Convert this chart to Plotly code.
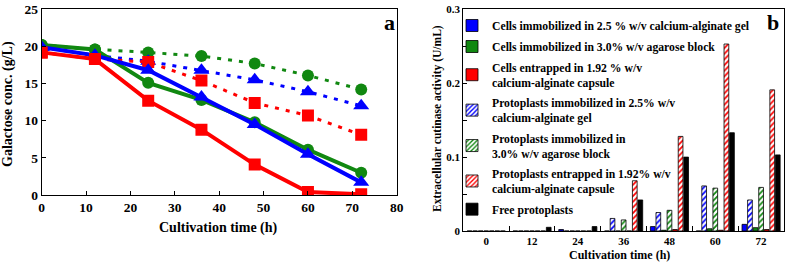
import plotly.graph_objects as go

# ---------- Panel a data ----------
time_h = [0, 12, 24, 36, 48, 60, 72]
gal_gel_solid = [19.9, 18.8, 16.8, 13.2, 9.5, 5.5, 1.7]
gal_agarose_solid = [20.2, 19.6, 15.1, 12.8, 9.8, 6.1, 3.0]
gal_capsule_solid = [19.2, 18.3, 12.7, 8.8, 4.1, 0.4, 0.1]
gal_gel_dotted = [19.9, 18.8, 18.0, 16.8, 15.5, 13.9, 12.0]
gal_agarose_dotted = [20.2, 19.6, 19.2, 18.7, 17.7, 16.1, 14.2]
gal_capsule_dotted = [19.2, 18.3, 17.9, 15.4, 12.4, 10.7, 8.1]

# ---------- Panel b data ----------
cats = ["0", "12", "24", "36", "48", "60", "72"]
cells_gel = [0, 0, 0.002, 0, 0.006, 0, 0.009]
prot_gel = [0, 0, 0, 0.017, 0.025, 0.061, 0.042]
cells_agarose = [0, 0, 0, 0, 0.001, 0.003, 0.0045]
prot_agarose = [0, 0, 0, 0.015, 0.028, 0.058, 0.059]
cells_capsule = [0, 0, 0, 0, 0.002, 0.001, 0.002]
prot_capsule = [0, 0, 0, 0.068, 0.128, 0.253, 0.191]
free_prot = [0, 0.005, 0.006, 0.042, 0.100, 0.133, 0.103]

names = {
    "cells_gel": "Cells immobilized in 2.5 % w/v calcium-alginate gel",
    "cells_agarose": "Cells immobilized in 3.0% w/v agarose block",
    "cells_capsule": "Cells entrapped in 1.92 % w/v<br>calcium-alginate capsule",
    "prot_gel": "Protoplasts immobilized in 2.5% w/v<br>calcium-alginate gel",
    "prot_agarose": "Protoplasts immobilized in<br>3.0% w/v agarose block",
    "prot_capsule": "Protoplasts entrapped in 1.92% w/v<br>calcium-alginate capsule",
    "free": "Free protoplasts",
}

BLUE = "#0000ff"
GREEN = "#118811"
RED = "#ff0000"
FONT = "Liberation Serif, Times New Roman, serif"

fig = go.Figure()

# ---- panel a lines ----
def line(y, color, symbol, size, dotted):
    return go.Scatter(
        x=time_h, y=y, mode="lines+markers", showlegend=False,
        line=dict(color=color, width=3 if dotted else 4,
                  dash="4px,7px" if dotted else "solid"),
        marker=dict(color=color, symbol=symbol, size=size),
        xaxis="x", yaxis="y",
    )

fig.add_trace(line(gal_agarose_dotted, GREEN, "circle", 12, True))
fig.add_trace(line(gal_gel_dotted, BLUE, "triangle-up", 14, True))
fig.add_trace(line(gal_capsule_dotted, RED, "square", 12, True))
fig.add_trace(line(gal_agarose_solid, GREEN, "circle", 12, False))
fig.add_trace(line(gal_gel_solid, BLUE, "triangle-up", 14, False))
fig.add_trace(line(gal_capsule_solid, RED, "square", 12, False))

# ---- panel b bars ----
def bar(y, key, color, hatched, rank):
    marker = dict(color="white" if hatched else color,
                  line=dict(color="black", width=0.8))
    if hatched:
        marker["pattern"] = dict(shape="/", fgcolor=color, bgcolor="white",
                                 size=4, solidity=0.45, fillmode="replace")
    return go.Bar(x=cats, y=y, name=names[key], marker=marker,
                  legendrank=rank, legendgroup=key, xaxis="x2", yaxis="y2")

fig.add_trace(bar(cells_gel, "cells_gel", BLUE, False, 1))
fig.add_trace(bar(prot_gel, "prot_gel", BLUE, True, 4))
fig.add_trace(bar(cells_agarose, "cells_agarose", GREEN, False, 2))
fig.add_trace(bar(prot_agarose, "prot_agarose", GREEN, True, 5))
fig.add_trace(bar(cells_capsule, "cells_capsule", RED, False, 3))
fig.add_trace(bar(prot_capsule, "prot_capsule", RED, True, 6))
fig.add_trace(bar(free_prot, "free", "black", False, 7))

W, H = 785, 263
def px(x):
    return x / W
def py(y):
    return (H - y) / H

axis_common = dict(showline=True, linecolor="black", linewidth=1, mirror=True,
                   showgrid=False, zeroline=False, ticks="inside",
                   tickcolor="black", automargin=False)

def ann(text, x, y, size, angle=0):
    return dict(text=text, x=px(x), y=py(y), xref="paper", yref="paper",
                xanchor="center", yanchor="middle", textangle=angle,
                showarrow=False, font=dict(size=size, family=FONT, weight="bold"))

fig.update_layout(
    width=W, height=H,
    margin=dict(l=0, r=0, t=0, b=0),
    paper_bgcolor="white", plot_bgcolor="white",
    font=dict(family=FONT, color="black", weight="bold"),
    barmode="group", bargap=0.15, bargroupgap=0.15,
    xaxis=dict(domain=[px(41.7), px(396.7)], range=[0, 80], dtick=10,
               ticklen=4, tickfont=dict(size=13.5, family=FONT, weight="bold"),
               anchor="y", **axis_common),
    yaxis=dict(domain=[py(195), py(9.3)], range=[0, 25], dtick=5,
               ticklen=4, tickfont=dict(size=13.5, family=FONT, weight="bold"),
               anchor="x", **axis_common),
    xaxis2=dict(domain=[px(463.3), px(784)], type="category",
                range=[-0.5, 6.5], tickson="boundaries", ticklen=5,
                tickfont=dict(size=11, family=FONT, weight="bold"),
                anchor="y2", **axis_common),
    yaxis2=dict(domain=[py(231), py(9.3)], range=[0, 0.3], dtick=0.1,
                tickformat=".1~f", ticklen=4,
                tickfont=dict(size=11, family=FONT, weight="bold"),
                minor=dict(dtick=0.05, ticks="inside", ticklen=4, tickcolor="black"),
                anchor="x2", **axis_common),
    legend=dict(x=px(452), y=py(11), xanchor="left", yanchor="top",
                bgcolor="rgba(0,0,0,0)", borderwidth=0,
                font=dict(size=11.7, family=FONT, weight="bold"),
                traceorder="grouped", tracegroupgap=2, itemwidth=30),
    annotations=[
        ann("Galactose conc. (g/L)", 8, 104, 14, -90),
        ann("Cultivation time (h)", 218.5, 228, 14),
        ann("Extracellular cutinase activity (U/mL)", 437, 119, 11.5, -90),
        ann("Cultivation time (h)", 619, 255, 12),
        ann("a", 389, 22, 22),
        ann("b", 773, 22, 22),
    ],
)

fig.write_html(
    "out.html",
    config={"displayModeBar": False},
    post_script="document.body.style.margin='0px';document.body.style.overflow='hidden';",
)
